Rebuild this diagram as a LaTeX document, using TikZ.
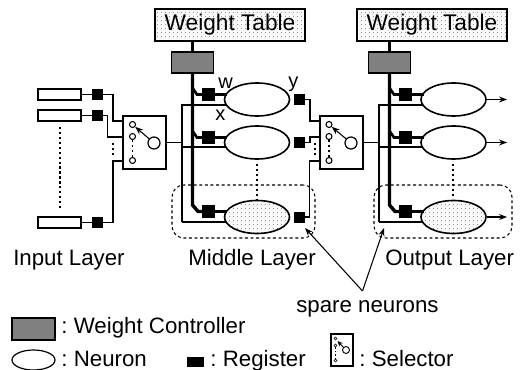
\documentclass[tikz,border=0pt]{standalone}
\usepackage{fontspec}
\setmainfont{Liberation Sans}
\usetikzlibrary{patterns,arrows.meta,shapes.geometric,calc}
\def\u{0.75pt}
\pgfdeclarepatternformonly{sparsedots}{\pgfqpoint{-0.5pt}{-0.5pt}}{\pgfqpoint{2.5pt}{2.5pt}}{\pgfqpoint{3pt}{3pt}}{%
  \pgfpathrectangle{\pgfqpoint{0pt}{0pt}}{\pgfqpoint{0.75pt}{0.75pt}}%
  \pgfpathrectangle{\pgfqpoint{1.5pt}{1.5pt}}{\pgfqpoint{0.75pt}{0.75pt}}%
  \pgfusepath{fill}}
\tikzset{
  x=0.75pt,y=-0.75pt,
  lab/.style={inner sep=0pt,anchor=base west,font=\fontsize{16.7pt}{18pt}\selectfont},
  smalllab/.style={inner sep=0pt,anchor=base west,font=\fontsize{15pt}{17pt}\selectfont},
  table/.style={draw,line width=1.2pt,minimum width=150*\u,minimum height=32*\u,inner sep=0pt,pattern=sparsedots,pattern color=gray!90,font=\fontsize{17pt}{18pt}\selectfont},
  ctrl/.style={draw,line width=1.3pt,minimum width=42*\u,minimum height=21*\u,inner sep=0pt,fill=black!50},
  inrect/.style={draw,line width=1.2pt,fill=white,minimum width=43*\u,minimum height=11*\u,inner sep=0pt},
  regsmall/.style={draw=black,fill=black,minimum width=10*\u,minimum height=10*\u,inner sep=0pt},
  regbig/.style={draw=black,fill=black,minimum width=12*\u,minimum height=12*\u,inner sep=0pt},
  neuron/.style={draw,ellipse,line width=1.2pt,fill=white,minimum width=65*\u,minimum height=33*\u,inner sep=0pt},
  spareneuron/.style={neuron,pattern=sparsedots,pattern color=gray!90},
  selbox/.style={draw,line width=1.3pt,fill=white,minimum width=43*\u,minimum height=53*\u,inner sep=0pt},
  port/.style={draw,circle,line width=0.8pt,fill=white,minimum size=6*\u,inner sep=0pt},
  hub/.style={draw,circle,line width=0.9pt,fill=white,minimum size=12*\u,inner sep=0pt},
  wire/.style={line width=0.8pt},
  bus/.style={line width=2.6pt},
  dotline/.style={line width=1.3pt,dash pattern=on 1.7pt off 2pt},
  sparebox/.style={draw,line width=0.8pt,dash pattern=on 2.2pt off 2pt,rounded corners=9pt},
  tip/.style={-{Stealth[length=6pt,width=4.5pt]}},
}
\begin{document}
\begin{tikzpicture}
\useasboundingbox (0,0) rectangle (523,370);

% dashed groups
\node[sparebox,minimum width=143*\u,minimum height=53*\u] (gm) at (243.5,211.5) {};
\node[sparebox,minimum width=138*\u,minimum height=53*\u] (go) at (443,211.5) {};

% tables and controllers
\node[table] (t1) at (230,25) {Weight Table};
\node[table] (t2) at (432,25) {Weight Table};
\node[ctrl] (c1) at (192.5,62.5) {};
\node[ctrl] (c2) at (389.5,62.5) {};

% input layer
\node[inrect] (i1) at (59.5,94.5) {};
\node[inrect] (i2) at (59.5,115.5) {};
\node[inrect] (i3) at (59.5,222.5) {};
\node[regsmall] (ir1) at (97,94.5) {};
\node[regsmall] (ir2) at (97,115.5) {};
\node[regsmall] (ir3) at (97,222.5) {};
\draw[wire] (i1) -- (ir1);
\draw[wire] (i2) -- (ir2);
\draw[wire] (i3) -- (ir3);
\coordinate (i1top) at (60,127);
\coordinate (i1bot) at (60,209);
\draw[dotline] (i1top) -- (i1bot);

% selectors
\node[selbox] (s1) at (144.5,142.5) {};
\node[selbox] (s2) at (341.5,142.5) {};
\coordinate (b1) at (182,142.5);
\coordinate (b2) at (379,142.5);

% wires into selector 1
\coordinate (s1a) at (123,121);
\coordinate (s1b) at (123,137);
\coordinate (s1c) at (123,161);
\draw[wire] (ir1.east) -- (113,94.5) |- (s1a);
\draw[wire] (ir2.east) -- (107.5,115.5) |- (s1b);
\draw[wire] (ir3.east) -- (113,222.5) |- (s1c);
\coordinate (d1a) at (113,143);
\coordinate (d1b) at (113,156);
\draw[dotline] (d1a) -- (d1b);

% middle layer
\node[neuron] (n1) at (257,99.5) {};
\node[neuron] (n2) at (257,142.5) {};
\node[spareneuron] (n3) at (257,217) {};
\node[regbig] (r1) at (208.5,94.5) {};
\node[regbig] (r2) at (208.5,137.5) {};
\node[regbig] (r3) at (208.5,211.5) {};
\node[regsmall] (o1) at (299,99.5) {};
\node[regsmall] (o2) at (299,142.5) {};
\node[regsmall] (o3) at (299,217) {};
\draw[wire] (s1.east |- b1) -- (b1);
\draw[wire] (182,222) -- (182,105) -- (226,105);
\draw[wire] (182,147) -- (226,147);
\draw[wire] (182,222) -- (226,222);
\draw[bus] (c1.north |- t1.south) -- (c1.north);
\draw[bus] (c1.south) -- (192.5,205) -- (198,211.5) -- (r3.west);
\draw[bus,line width=2pt] (192.5,88) -- (197,94.5) -- (r1.west);
\draw[bus,line width=2pt] (192.5,131) -- (197,137.5) -- (r2.west);
\draw[line width=1.8pt] (r1.east) -- (227,94.5);
\draw[line width=1.8pt] (r2.east) -- (227,137.5);
\draw[line width=1.8pt] (r3.east) -- (227,211.5);
\coordinate (dm1) at (257,164);
\coordinate (dm2) at (257,199);
\draw[dotline] (dm1) -- (dm2);

% wires into selector 2
\coordinate (s2a) at (320,121);
\coordinate (s2b) at (320,137);
\coordinate (s2c) at (320,161);
\draw[wire] (o1.east) -- (310,99.5) |- (s2a);
\draw[wire] (o2.east) -- (310,142.5) |- (s2b);
\draw[wire] (o3.east) -- (309.5,217) |- (s2c);
\coordinate (d2a) at (315,143);
\coordinate (d2b) at (315,156);
\draw[dotline] (d2a) -- (d2b);

% output layer
\node[neuron] (m1) at (453.5,99.5) {};
\node[neuron] (m2) at (453.5,142.5) {};
\node[spareneuron] (m3) at (453.5,217) {};
\node[regbig] (q1) at (405.5,94.5) {};
\node[regbig] (q2) at (405.5,137.5) {};
\node[regbig] (q3) at (405.5,211.5) {};
\draw[wire] (s2.east |- b2) -- (b2);
\draw[wire] (379,222) -- (379,105) -- (423,105);
\draw[wire] (379,147) -- (423,147);
\draw[wire] (379,222) -- (423,222);
\draw[bus] (c2.north |- t2.south) -- (c2.north);
\draw[bus] (c2.south) -- (389.5,205) -- (395,211.5) -- (q3.west);
\draw[bus,line width=2pt] (389.5,88) -- (394,94.5) -- (q1.west);
\draw[bus,line width=2pt] (389.5,131) -- (394,137.5) -- (q2.west);
\draw[line width=1.8pt] (q1.east) -- (424,94.5);
\draw[line width=1.8pt] (q2.east) -- (424,137.5);
\draw[line width=1.8pt] (q3.east) -- (424,211.5);
\coordinate (e1) at (507,99.5);
\coordinate (e2) at (507,142.5);
\coordinate (e3) at (507,217);
\draw[wire,tip] (m1.east) -- (e1);
\draw[wire,tip] (m2.east) -- (e2);
\draw[wire,tip] (m3.east) -- (e3);
\coordinate (do1) at (453,164);
\coordinate (do2) at (453,198);
\draw[dotline] (do1) -- (do2);

% selector interiors
\node[port] (p1a) at (132.5,124.5) {};
\node[port] (p1b) at (132.5,136.5) {};
\node[port] (p1c) at (132.5,160.5) {};
\node[hub] (h1) at (154,143) {};
\draw[dotline] (p1b) -- (p1c);
\draw[wire,tip] (h1) -- (p1a);
\node[port] (p2a) at (329,124.5) {};
\node[port] (p2b) at (329,136.5) {};
\node[port] (p2c) at (329,160.5) {};
\node[hub] (h2) at (351,143) {};
\draw[dotline] (p2b) -- (p2c);
\draw[wire,tip] (h2) -- (p2a);

% labels
\node[smalllab] (lw) at (218,89) {w};
\node[smalllab] (lx) at (215,121) {x};
\node[smalllab] (ly) at (288,88) {y};
\node[lab] (li) at (13,265) {Input Layer};
\node[lab] (lm) at (188,265) {Middle Layer};
\node[lab] (lo) at (385,265) {Output Layer};
\node[lab] (ls) at (296,312) {spare neurons};
\coordinate (apex) at (362.5,291);
\coordinate (tipa) at (305,228);
\coordinate (tipb) at (384,228);
\draw[wire,tip] (apex) -- (tipa);
\draw[wire,tip] (apex) -- (tipb);

% legend
\node[ctrl,minimum width=43*\u,minimum height=22*\u,line width=0.9pt] (kc) at (33.5,329) {};
\node[lab] (kct) at (61,333) {:\kern4.8pt Weight Controller};
\node[neuron,minimum width=43*\u,minimum height=20*\u,line width=0.9pt] (kn) at (33.5,360) {};
\node[lab] (knt) at (61,366) {:\kern4.8pt Neuron};
\node[draw=black,fill=black,minimum width=16*\u,minimum height=9*\u,inner sep=0pt] (kr) at (195,361.5) {};
\node[lab] (krt) at (210,366) {:\kern4.8pt Register};
\node[draw,line width=0.9pt,fill=white,minimum width=22*\u,minimum height=32*\u,inner sep=0pt] (ks) at (342,350) {};
\node[port,minimum size=3*\u,line width=0.5pt] (ksa) at (335.5,338.5) {};
\node[port,minimum size=3*\u,line width=0.5pt] (ksb) at (335.5,345.5) {};
\node[port,minimum size=3*\u,line width=0.5pt] (ksc) at (335.5,360.5) {};
\node[port,minimum size=7*\u,line width=0.7pt] (ksh) at (346,350) {};
\draw[line width=0.9pt,dash pattern=on 1.2pt off 1.4pt] (ksb) -- (ksc);
\draw[line width=0.7pt,-{Stealth[length=4pt,width=3.5pt]}] (ksh) -- (337.5,341);
\node[lab] (kst) at (359,366) {:\kern4.8pt Selector};
\end{tikzpicture}
\end{document}
